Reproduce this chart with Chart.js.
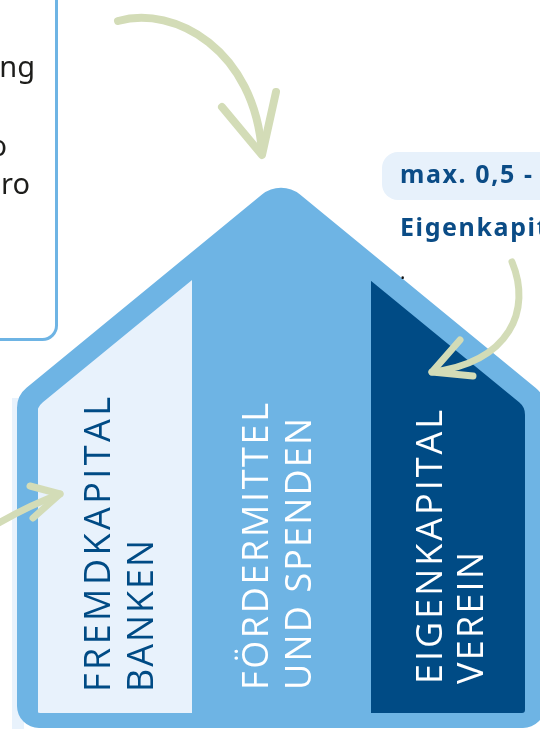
<!DOCTYPE html>
<html>
<head>
<meta charset="utf-8">
<script src="https://cdn.jsdelivr.net/npm/chart.js@4.4.0/dist/chart.umd.min.js"></script>
<style>
  html, body { margin: 0; padding: 0; background: #fff; overflow: hidden; }
  canvas { display: block; }
</style>
</head>
<body>
<canvas id="house-chart" width="540" height="729"></canvas>
<script>
const categories = ["Fremdkapital Banken", "Fördermittel und Spenden", "Eigenkapital Verein"];
const columnHeights = [100, 100, 100];
const columnLabels = [
  ["FREMDKAPITAL", "BANKEN"],
  ["FÖRDERMITTEL", "UND SPENDEN"],
  ["EIGENKAPITAL", "VEREIN"]
];
const noteLines = ["ng", "o", "ro"];
const calloutLines = ["max. 0,5 -", "Eigenkapital", "."];

const colors = {
  house: "#6eb4e4",
  pale: "#e8f2fc",
  dark: "#004b85",
  green: "#d3dcb7",
  ink: "#1d1d1b"
};
const columnColors = [colors.pale, colors.house, colors.dark];
const labelColors = [colors.dark, "#ffffff", "#ffffff"];
// share of the category slot each column takes
const columnWidthShare = [0.925, 1.075, 0.925];

// label placement: baseline offset from column centre, start y, target length
const labelLayout = [
  { dx: [-5, 38], y0: 692, len: [295, 152] },
  { dx: [-14, 29], y0: 690, len: [287, 272] },
  { dx: [-6, 35], y0: 684, len: [274, 132] }
];

const outerHouse = { l: 17, r: 545, b: 728, apexX: 281, apexY: 179, slope: 0.82, rRoof: 30, rEave: 26, rBottom: 22 };
const innerHouse = { l: 37, r: 525, b: 713, apexX: 281, apexY: 207, slope: 0.82, rRoof: 20, rEave: 16, rBottom: 3 };

function housePath(ctx, h) {
  const eaveL = h.apexY + h.slope * (h.apexX - h.l);
  const eaveR = h.apexY + h.slope * (h.r - h.apexX);
  ctx.beginPath();
  ctx.moveTo(h.apexX, h.b);
  ctx.arcTo(h.l, h.b, h.l, eaveL, h.rBottom);
  ctx.arcTo(h.l, eaveL, h.apexX, h.apexY, h.rEave);
  ctx.arcTo(h.apexX, h.apexY, h.r, eaveR, h.rRoof);
  ctx.arcTo(h.r, eaveR, h.r, h.b, h.rEave);
  ctx.arcTo(h.r, h.b, h.apexX, h.b, h.rBottom);
  ctx.closePath();
}

function spacedWidth(ctx, text, spacing) {
  let w = 0;
  for (const ch of text) w += ctx.measureText(ch).width;
  return w + spacing * (text.length - 1);
}

function drawSpaced(ctx, text, x, y, spacing) {
  for (const ch of text) {
    ctx.fillText(ch, x, y);
    x += ctx.measureText(ch).width + spacing;
  }
}

function strokeArrow(ctx, drawShaft, head) {
  ctx.beginPath();
  drawShaft();
  ctx.stroke();
  ctx.beginPath();
  ctx.moveTo(head[0][0], head[0][1]);
  ctx.lineTo(head[1][0], head[1][1]);
  ctx.lineTo(head[2][0], head[2][1]);
  ctx.stroke();
}

const housePlugin = {
  id: "house",
  beforeDraw(chart) {
    const ctx = chart.ctx;
    ctx.save();
    ctx.fillStyle = "#ffffff";
    ctx.fillRect(0, 0, chart.width, chart.height);

    // pale shadow strip behind the house
    ctx.fillStyle = colors.pale;
    ctx.fillRect(12, 398, 12, 331);

    housePath(ctx, outerHouse);
    ctx.fillStyle = colors.house;
    ctx.fill();

    // info box on the left
    ctx.strokeStyle = colors.house;
    ctx.lineWidth = 3;
    ctx.beginPath();
    ctx.roundRect(-30, -30, 86.5, 369.5, 14);
    ctx.stroke();

    ctx.fillStyle = colors.ink;
    ctx.font = "29px 'Noto Sans'";
    ctx.textBaseline = "alphabetic";
    const noteRight = [35, 7, 30];
    const noteY = [77, 156, 194];
    noteLines.forEach((t, i) => {
      const w = ctx.measureText(t).width;
      ctx.fillText(t, noteRight[i] - w, noteY[i]);
    });

    // callout on the right
    ctx.fillStyle = "#e7f1fb";
    ctx.beginPath();
    ctx.roundRect(382, 152, 220, 48, 16);
    ctx.fill();

    ctx.fillStyle = "#0b4c86";
    ctx.font = "bold 25px 'Noto Sans'";
    const calloutSpacing = (132 - spacedWidth(ctx, calloutLines[0], 0)) / (calloutLines[0].length - 1);
    drawSpaced(ctx, calloutLines[0], 400, 183, calloutSpacing);
    drawSpaced(ctx, calloutLines[1], 400, 236, calloutSpacing);
    ctx.fillStyle = "#111";
    ctx.font = "20px 'Noto Sans'";
    ctx.fillText(calloutLines[2], 400, 279);
    ctx.restore();
  },
  beforeDatasetsDraw(chart) {
    const ctx = chart.ctx;
    ctx.save();
    housePath(ctx, innerHouse);
    ctx.clip();
  },
  afterDatasetsDraw(chart) {
    const ctx = chart.ctx;
    ctx.restore();

    ctx.save();
    ctx.font = "36px 'Open Sans'";
    ctx.textBaseline = "alphabetic";
    columnLabels.forEach((lines, i) => {
      const bar = chart.getDatasetMeta(i).data[i];
      const lay = labelLayout[i];
      ctx.fillStyle = labelColors[i];
      lines.forEach((line, j) => {
        const natural = spacedWidth(ctx, line, 0);
        const spacing = (lay.len[j] - natural) / (line.length - 1);
        ctx.save();
        ctx.translate(bar.x + lay.dx[j], lay.y0);
        ctx.rotate(-Math.PI / 2);
        drawSpaced(ctx, line, 0, 0, spacing);
        ctx.restore();
      });
    });
    ctx.restore();
  },
  afterDraw(chart) {
    const ctx = chart.ctx;
    ctx.save();
    ctx.strokeStyle = colors.green;
    ctx.lineCap = "round";
    ctx.lineJoin = "round";
    ctx.lineWidth = 8;

    strokeArrow(ctx, () => {
      ctx.moveTo(118, 21);
      ctx.bezierCurveTo(175, 5, 255, 50, 262, 153);
    }, [[222, 107], [262, 155], [276, 92]]);

    ctx.lineWidth = 7;
    strokeArrow(ctx, () => {
      ctx.moveTo(512, 262);
      ctx.bezierCurveTo(532, 310, 510, 362, 432, 372);
    }, [[460, 340], [432, 372], [473, 376]]);

    strokeArrow(ctx, () => {
      ctx.moveTo(-5, 525);
      ctx.quadraticCurveTo(30, 505, 60, 494);
    }, [[30, 486], [60, 494], [33, 518]]);
    ctx.restore();
  }
};

new Chart(document.getElementById("house-chart"), {
  type: "bar",
  data: {
    labels: categories,
    datasets: categories.map((name, i) => ({
      label: name,
      data: columnHeights.map((v, j) => (j === i ? v : null)),
      backgroundColor: columnColors[i],
      borderWidth: 0,
      barPercentage: columnWidthShare[i],
      categoryPercentage: 1,
      grouped: false
    }))
  },
  options: {
    responsive: false,
    animation: false,
    layout: { padding: { top: 280, bottom: 16, left: 31.75, right: 8.75 } },
    plugins: {
      legend: { display: false },
      tooltip: { enabled: false }
    },
    scales: {
      x: { display: false },
      y: { display: false, min: 0, max: 100 }
    }
  },
  plugins: [housePlugin]
});
</script>
</body>
</html>
